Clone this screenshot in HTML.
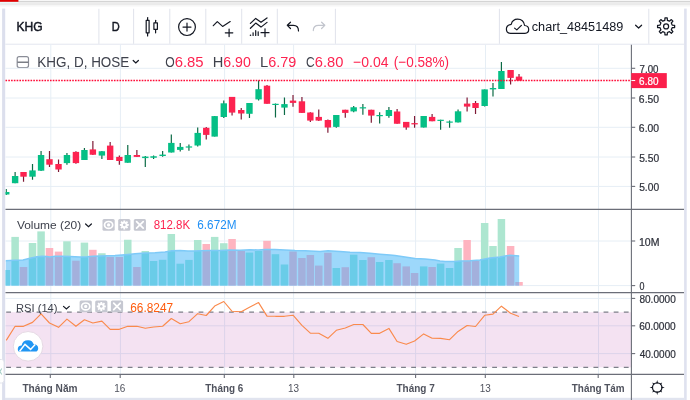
<!DOCTYPE html>
<html><head><meta charset="utf-8">
<style>
html,body{margin:0;padding:0;background:#fff;}
body{width:690px;height:400px;overflow:hidden;position:relative;font-family:"Liberation Sans",sans-serif;}
.a{position:absolute;white-space:nowrap;line-height:1;}
svg{position:absolute;left:0;top:0;will-change:transform;}
</style></head><body>
<svg width="690" height="400" viewBox="0 0 690 400" style="z-index:0">
<!-- top browser band -->
<rect x="0" y="0" width="690" height="1" fill="#f7f7f7"/>
<rect x="0" y="1" width="690" height="1.2" fill="#d4d4d4"/>
<rect x="0" y="2.2" width="690" height="3" fill="#ebebeb"/>
<rect x="0" y="5.2" width="690" height="1.3" fill="#f6f6f6"/>
<rect x="0" y="0" width="18.4" height="1.9" fill="#e00000"/>
<rect x="0" y="1.9" width="18.4" height="1.2" fill="#e9fbfb"/>
<!-- frame -->
<rect x="2.1" y="8.6" width="3.1" height="392" fill="#dcdfed"/>
<rect x="684.1" y="8.6" width="2.6" height="392" fill="#dfe2ef"/>
<rect x="5" y="397.8" width="679" height="2.2" fill="#e1e4ef"/>
<!-- toolbar bottom line -->
<rect x="5.3" y="43.7" width="678.7" height="1" fill="#e3e6ef"/>
<!-- toolbar separators -->
<g fill="#e0e3eb">
<rect x="98.4" y="8.8" width="1" height="35"/>
<rect x="133.1" y="8.8" width="1" height="35"/>
<rect x="169.3" y="8.8" width="1" height="35"/>
<rect x="205.3" y="8.8" width="1" height="35"/>
<rect x="241.2" y="8.8" width="1" height="35"/>
<rect x="276.8" y="8.8" width="1" height="35"/>
<rect x="334.9" y="8.8" width="1" height="35"/>
<rect x="498.9" y="8.8" width="1" height="35"/>
<rect x="648.3" y="8.8" width="1" height="35"/>
</g>
<!-- toolbar icons -->
<g fill="none" stroke="#131722" stroke-width="1.2" stroke-linecap="round" stroke-linejoin="round">
  <!-- candles icon -->
  <line x1="147.6" y1="17.5" x2="147.6" y2="36"/>
  <rect x="146.2" y="20.3" width="2.9" height="12.5" fill="#fff"/>
  <line x1="155.6" y1="20.3" x2="155.6" y2="32.8"/>
  <rect x="153.9" y="22.9" width="3.5" height="6.4" fill="#fff"/>
  <!-- plus circle -->
  <circle cx="187" cy="27.1" r="8.4"/>
  <line x1="183" y1="27.1" x2="191" y2="27.1"/>
  <line x1="187" y1="23.1" x2="187" y2="31.1"/>
  <!-- indicators -->
  <polyline points="213.3,25.7 217.3,21.6 222.6,26.4 230.2,21.6"/>
  <line x1="225.3" y1="32.8" x2="232.8" y2="32.8"/>
  <line x1="229.1" y1="29" x2="229.1" y2="36.6"/>
  <!-- templates -->
  <polyline points="250.4,23.4 255.7,18.4 261,22.3 267,17.9"/>
  <polyline points="250.4,28.3 255.7,23.1 261,27.1 267,22.4"/>
  <line x1="261" y1="32.7" x2="269" y2="32.7"/>
  <line x1="265" y1="28.8" x2="265" y2="36.6"/>
  <line x1="253.1" y1="32.8" x2="253.1" y2="35.5"/>
  <line x1="255.7" y1="30.7" x2="255.7" y2="35.5"/>
  <line x1="258.2" y1="31.8" x2="258.2" y2="35.5"/>
  <!-- undo -->
  <path d="M290.5,22.2 L287.3,25.3 L290.5,28.5 M287.3,25.3 L293.4,25.3 Q298.5,25.3 298.5,31"/>
  <!-- cloud -->
  <path d="M510.5,33.3 L525,33.3 Q528.7,33.3 528.7,29.6 Q528.7,25.8 524.6,25.5 Q523.6,19.2 517.6,19.2 Q512.6,19.2 511.2,24.3 Q506.4,25 506.4,29 Q506.4,33.3 510.5,33.3 Z"/>
  <polyline points="514.6,28.1 516.8,29.9 521.4,25.3"/>
  <!-- chevron -->
  <polyline points="635.6,25.2 638.6,28 641.6,25.2"/>
</g>
<g fill="none" stroke="#c2c5cd" stroke-width="1.2" stroke-linecap="round" stroke-linejoin="round">
  <path d="M321.6,22.2 L324.8,25.3 L321.6,28.5 M324.8,25.3 L318.5,25.3 Q313.3,25.3 313.3,30.6"/>
</g>
<!-- template dot -->
<circle cx="250.5" cy="35.3" r="0.8" fill="#131722"/>
<!-- gear top right -->
<path d="M664.81,20.34 L664.99,17.87 L667.21,17.87 L667.39,20.34 L669.47,21.20 L671.34,19.58 L672.92,21.16 L671.30,23.03 L672.16,25.11 L674.63,25.29 L674.63,27.51 L672.16,27.69 L671.30,29.77 L672.92,31.64 L671.34,33.22 L669.47,31.60 L667.39,32.46 L667.21,34.93 L664.99,34.93 L664.81,32.46 L662.73,31.60 L660.86,33.22 L659.28,31.64 L660.90,29.77 L660.04,27.69 L657.57,27.51 L657.57,25.29 L660.04,25.11 L660.90,23.03 L659.28,21.16 L660.86,19.58 L662.73,21.20 Z" fill="none" stroke="#131722" stroke-width="1.25" stroke-linejoin="round"/>
<circle cx="666.1" cy="26.4" r="2.5" fill="none" stroke="#131722" stroke-width="1.25"/>
<!-- legend collapse icon -->
<g fill="none" stroke="#8a8d97" stroke-width="1.2">
  <rect x="17.2" y="56.6" width="11.3" height="10.9" rx="2"/>
  <line x1="17.5" y1="62.2" x2="28.2" y2="62.2" stroke="#5a5d68"/>
</g>
<polyline points="133.2,60.5 135.8,63 138.4,60.5" fill="none" stroke="#131722" stroke-width="1.2" stroke-linecap="round"/>
<defs>
<clipPath id="cp"><rect x="5.5" y="44.5" width="626.0" height="164.5"/></clipPath>
<clipPath id="cv"><rect x="5.5" y="210" width="626.0" height="82.2"/></clipPath>
<clipPath id="cr"><rect x="5.5" y="293.2" width="626.0" height="80.8"/></clipPath>
</defs>
<g stroke="#e6eef5" stroke-width="1" fill="none">
<line x1="50.8" y1="44.5" x2="50.8" y2="374"/>
<line x1="120.4" y1="44.5" x2="120.4" y2="374"/>
<line x1="224.6" y1="44.5" x2="224.6" y2="374"/>
<line x1="293.6" y1="44.5" x2="293.6" y2="374"/>
<line x1="415.6" y1="44.5" x2="415.6" y2="374"/>
<line x1="485.5" y1="44.5" x2="485.5" y2="374"/>
<line x1="598.5" y1="44.5" x2="598.5" y2="374"/>
<line x1="5.5" y1="68.3" x2="631.5" y2="68.3"/>
<line x1="5.5" y1="98.0" x2="631.5" y2="98.0"/>
<line x1="5.5" y1="127.3" x2="631.5" y2="127.3"/>
<line x1="5.5" y1="157.0" x2="631.5" y2="157.0"/>
<line x1="5.5" y1="186.4" x2="631.5" y2="186.4"/>
<line x1="5.5" y1="241.0" x2="631.5" y2="241.0"/>
<line x1="5.5" y1="285.6" x2="631.5" y2="285.6"/>
<line x1="5.5" y1="298.4" x2="631.5" y2="298.4"/>
</g>
<rect x="5.5" y="312.2" width="626.0" height="55.2" fill="#f4e2f2"/>
<g stroke="#dcd3ea" stroke-width="1">
<line x1="5.5" y1="325.8" x2="631.5" y2="325.8"/>
<line x1="5.5" y1="353.6" x2="631.5" y2="353.6"/>
<line x1="50.8" y1="312.2" x2="50.8" y2="367.4"/>
<line x1="120.4" y1="312.2" x2="120.4" y2="367.4"/>
<line x1="224.6" y1="312.2" x2="224.6" y2="367.4"/>
<line x1="293.6" y1="312.2" x2="293.6" y2="367.4"/>
<line x1="415.6" y1="312.2" x2="415.6" y2="367.4"/>
<line x1="485.5" y1="312.2" x2="485.5" y2="367.4"/>
<line x1="598.5" y1="312.2" x2="598.5" y2="367.4"/>
</g>
<g stroke="#7d7f89" stroke-width="1.3" stroke-dasharray="4.8 5.325" fill="none">
<line x1="6.2" y1="312.2" x2="631.5" y2="312.2"/>
<line x1="6.2" y1="367.4" x2="631.5" y2="367.4"/>
</g>
<clipPath id="cvb"><polygon points="3.5,287.6 3.5,260.7 5.5,260.7 15,260.2 23,260 30,258.2 37,256.7 42,256.2 47,256.5 50,256.9 55,256.3 62,256.2 70,256.4 75,256.7 80,257.1 87,256.7 93,256.2 100,256 107,255.7 115,255.6 122,255 128,254.4 135,253.7 145,253 155,252.7 165,252.1 172,250.8 180,250.4 188,251 194,251 200,250.7 210,250.6 220,250.4 230,249.9 240,250.3 250,249.7 258,250 265,249.6 275,249.6 285,250.1 295,250.6 305,250.7 315,251.2 320,251.5 328,250.7 340,251.5 350,252.3 360,252.6 370,253.3 380,254.2 390,255 395,255.6 405,256.9 415,258.6 425,259 435,260 440,261 445,261.6 455,261.4 460,261 470,260.7 480,260 490,258.1 500,256.9 505,255.9 510,255.3 519.2,255.9 519.2,287.6"/></clipPath>
<clipPath id="cva"><polygon points="0,200 3.5,260.7 5.5,260.7 15,260.2 23,260 30,258.2 37,256.7 42,256.2 47,256.5 50,256.9 55,256.3 62,256.2 70,256.4 75,256.7 80,257.1 87,256.7 93,256.2 100,256 107,255.7 115,255.6 122,255 128,254.4 135,253.7 145,253 155,252.7 165,252.1 172,250.8 180,250.4 188,251 194,251 200,250.7 210,250.6 220,250.4 230,249.9 240,250.3 250,249.7 258,250 265,249.6 275,249.6 285,250.1 295,250.6 305,250.7 315,251.2 320,251.5 328,250.7 340,251.5 350,252.3 360,252.6 370,253.3 380,254.2 390,255 395,255.6 405,256.9 415,258.6 425,259 435,260 440,261 445,261.6 455,261.4 460,261 470,260.7 480,260 490,258.1 500,256.9 505,255.9 510,255.3 519.2,255.9 519.2,287.6 700,287.6 700,200"/></clipPath>
<g clip-path="url(#cv)">
<polygon points="5.5,285.6 5.5,260.7 15,260.2 23,260 30,258.2 37,256.7 42,256.2 47,256.5 50,256.9 55,256.3 62,256.2 70,256.4 75,256.7 80,257.1 87,256.7 93,256.2 100,256 107,255.7 115,255.6 122,255 128,254.4 135,253.7 145,253 155,252.7 165,252.1 172,250.8 180,250.4 188,251 194,251 200,250.7 210,250.6 220,250.4 230,249.9 240,250.3 250,249.7 258,250 265,249.6 275,249.6 285,250.1 295,250.6 305,250.7 315,251.2 320,251.5 328,250.7 340,251.5 350,252.3 360,252.6 370,253.3 380,254.2 390,255 395,255.6 405,256.9 415,258.6 425,259 435,260 440,261 445,261.6 455,261.4 460,261 470,260.7 480,260 490,258.1 500,256.9 505,255.9 510,255.3 519.2,255.9 519.2,285.6" fill="#9dd8fb"/>
<g clip-path="url(#cva)">
<rect x="2.48" y="270" width="7.5" height="15.6" fill="#ade6d0"/>
<rect x="11.37" y="236.9" width="7.5" height="48.7" fill="#ade6d0"/>
<rect x="19.78" y="267" width="7.5" height="18.6" fill="#feb4c0"/>
<rect x="28.76" y="243" width="7.5" height="42.6" fill="#ade6d0"/>
<rect x="37.32" y="231.4" width="7.5" height="54.2" fill="#ade6d0"/>
<rect x="45.74" y="248" width="7.5" height="37.6" fill="#feb4c0"/>
<rect x="54.78" y="251.6" width="7.5" height="34" fill="#feb4c0"/>
<rect x="63.2" y="241.3" width="7.5" height="44.3" fill="#ade6d0"/>
<rect x="72.18" y="260.7" width="7.5" height="24.9" fill="#feb4c0"/>
<rect x="80.67" y="242.6" width="7.5" height="43" fill="#ade6d0"/>
<rect x="89.12" y="249.8" width="7.5" height="35.8" fill="#feb4c0"/>
<rect x="98.13" y="253.25" width="7.5" height="32.35" fill="#ade6d0"/>
<rect x="106.41" y="257" width="7.5" height="28.6" fill="#feb4c0"/>
<rect x="115.6" y="257" width="7.5" height="28.6" fill="#feb4c0"/>
<rect x="124.02" y="239.75" width="7.5" height="45.85" fill="#ade6d0"/>
<rect x="133.13" y="267" width="7.5" height="18.6" fill="#feb4c0"/>
<rect x="141.55" y="251" width="7.5" height="34.6" fill="#ade6d0"/>
<rect x="149.83" y="261" width="7.5" height="24.6" fill="#ade6d0"/>
<rect x="158.88" y="259.8" width="7.5" height="25.8" fill="#ade6d0"/>
<rect x="167.57" y="234" width="7.5" height="51.6" fill="#ade6d0"/>
<rect x="176.48" y="263.7" width="7.5" height="21.9" fill="#ade6d0"/>
<rect x="185.18" y="259.9" width="7.5" height="25.7" fill="#ade6d0"/>
<rect x="193.95" y="240" width="7.5" height="45.6" fill="#ade6d0"/>
<rect x="202.5" y="244" width="7.5" height="41.6" fill="#feb4c0"/>
<rect x="210.92" y="236.9" width="7.5" height="48.7" fill="#ade6d0"/>
<rect x="220.04" y="243.2" width="7.5" height="42.4" fill="#ade6d0"/>
<rect x="228.32" y="239" width="7.5" height="46.6" fill="#feb4c0"/>
<rect x="237.5" y="251" width="7.5" height="34.6" fill="#feb4c0"/>
<rect x="245.71" y="252.6" width="7.5" height="33" fill="#ade6d0"/>
<rect x="254.83" y="251" width="7.5" height="34.6" fill="#ade6d0"/>
<rect x="263.25" y="240.8" width="7.5" height="44.8" fill="#feb4c0"/>
<rect x="271.73" y="254.2" width="7.5" height="31.4" fill="#ade6d0"/>
<rect x="280.71" y="264.5" width="7.5" height="21.1" fill="#ade6d0"/>
<rect x="289.27" y="251.5" width="7.5" height="34.1" fill="#feb4c0"/>
<rect x="298.18" y="258" width="7.5" height="27.6" fill="#feb4c0"/>
<rect x="306.6" y="255" width="7.5" height="30.6" fill="#feb4c0"/>
<rect x="315.01" y="265.6" width="7.5" height="20" fill="#feb4c0"/>
<rect x="324.13" y="252.8" width="7.5" height="32.8" fill="#feb4c0"/>
<rect x="332.55" y="268" width="7.5" height="17.6" fill="#ade6d0"/>
<rect x="341.53" y="267.2" width="7.5" height="18.4" fill="#feb4c0"/>
<rect x="349.94" y="254.7" width="7.5" height="30.9" fill="#ade6d0"/>
<rect x="359.13" y="260" width="7.5" height="25.6" fill="#ade6d0"/>
<rect x="367.55" y="257.2" width="7.5" height="28.4" fill="#feb4c0"/>
<rect x="375.9" y="262" width="7.5" height="23.6" fill="#ade6d0"/>
<rect x="385.15" y="260" width="7.5" height="25.6" fill="#ade6d0"/>
<rect x="393.36" y="263.2" width="7.5" height="22.4" fill="#feb4c0"/>
<rect x="402.48" y="266.4" width="7.5" height="19.2" fill="#feb4c0"/>
<rect x="410.83" y="273" width="7.5" height="12.6" fill="#feb4c0"/>
<rect x="419.94" y="266.4" width="7.5" height="19.2" fill="#ade6d0"/>
<rect x="428.36" y="267" width="7.5" height="18.6" fill="#feb4c0"/>
<rect x="436.85" y="263.6" width="7.5" height="22" fill="#ade6d0"/>
<rect x="445.83" y="268" width="7.5" height="17.6" fill="#ade6d0"/>
<rect x="454.31" y="248" width="7.5" height="37.6" fill="#ade6d0"/>
<rect x="463.36" y="240" width="7.5" height="45.6" fill="#feb4c0"/>
<rect x="471.78" y="261" width="7.5" height="24.6" fill="#feb4c0"/>
<rect x="480.9" y="223" width="7.5" height="62.6" fill="#ade6d0"/>
<rect x="489.24" y="246" width="7.5" height="39.6" fill="#ade6d0"/>
<rect x="497.66" y="219" width="7.5" height="66.6" fill="#ade6d0"/>
<rect x="506.85" y="246" width="7.5" height="39.6" fill="#feb4c0"/>
<rect x="515.27" y="282" width="7.5" height="3.6" fill="#feb4c0"/>
</g>
<g clip-path="url(#cvb)">
<rect x="2.48" y="270" width="7.5" height="15.6" fill="#6acce8"/>
<rect x="11.37" y="236.9" width="7.5" height="48.7" fill="#6acce8"/>
<rect x="19.78" y="267" width="7.5" height="18.6" fill="#a3b0dc"/>
<rect x="28.76" y="243" width="7.5" height="42.6" fill="#6acce8"/>
<rect x="37.32" y="231.4" width="7.5" height="54.2" fill="#6acce8"/>
<rect x="45.74" y="248" width="7.5" height="37.6" fill="#a3b0dc"/>
<rect x="54.78" y="251.6" width="7.5" height="34" fill="#a3b0dc"/>
<rect x="63.2" y="241.3" width="7.5" height="44.3" fill="#6acce8"/>
<rect x="72.18" y="260.7" width="7.5" height="24.9" fill="#a3b0dc"/>
<rect x="80.67" y="242.6" width="7.5" height="43" fill="#6acce8"/>
<rect x="89.12" y="249.8" width="7.5" height="35.8" fill="#a3b0dc"/>
<rect x="98.13" y="253.25" width="7.5" height="32.35" fill="#6acce8"/>
<rect x="106.41" y="257" width="7.5" height="28.6" fill="#a3b0dc"/>
<rect x="115.6" y="257" width="7.5" height="28.6" fill="#a3b0dc"/>
<rect x="124.02" y="239.75" width="7.5" height="45.85" fill="#6acce8"/>
<rect x="133.13" y="267" width="7.5" height="18.6" fill="#a3b0dc"/>
<rect x="141.55" y="251" width="7.5" height="34.6" fill="#6acce8"/>
<rect x="149.83" y="261" width="7.5" height="24.6" fill="#6acce8"/>
<rect x="158.88" y="259.8" width="7.5" height="25.8" fill="#6acce8"/>
<rect x="167.57" y="234" width="7.5" height="51.6" fill="#6acce8"/>
<rect x="176.48" y="263.7" width="7.5" height="21.9" fill="#6acce8"/>
<rect x="185.18" y="259.9" width="7.5" height="25.7" fill="#6acce8"/>
<rect x="193.95" y="240" width="7.5" height="45.6" fill="#6acce8"/>
<rect x="202.5" y="244" width="7.5" height="41.6" fill="#a3b0dc"/>
<rect x="210.92" y="236.9" width="7.5" height="48.7" fill="#6acce8"/>
<rect x="220.04" y="243.2" width="7.5" height="42.4" fill="#6acce8"/>
<rect x="228.32" y="239" width="7.5" height="46.6" fill="#a3b0dc"/>
<rect x="237.5" y="251" width="7.5" height="34.6" fill="#a3b0dc"/>
<rect x="245.71" y="252.6" width="7.5" height="33" fill="#6acce8"/>
<rect x="254.83" y="251" width="7.5" height="34.6" fill="#6acce8"/>
<rect x="263.25" y="240.8" width="7.5" height="44.8" fill="#a3b0dc"/>
<rect x="271.73" y="254.2" width="7.5" height="31.4" fill="#6acce8"/>
<rect x="280.71" y="264.5" width="7.5" height="21.1" fill="#6acce8"/>
<rect x="289.27" y="251.5" width="7.5" height="34.1" fill="#a3b0dc"/>
<rect x="298.18" y="258" width="7.5" height="27.6" fill="#a3b0dc"/>
<rect x="306.6" y="255" width="7.5" height="30.6" fill="#a3b0dc"/>
<rect x="315.01" y="265.6" width="7.5" height="20" fill="#a3b0dc"/>
<rect x="324.13" y="252.8" width="7.5" height="32.8" fill="#a3b0dc"/>
<rect x="332.55" y="268" width="7.5" height="17.6" fill="#6acce8"/>
<rect x="341.53" y="267.2" width="7.5" height="18.4" fill="#a3b0dc"/>
<rect x="349.94" y="254.7" width="7.5" height="30.9" fill="#6acce8"/>
<rect x="359.13" y="260" width="7.5" height="25.6" fill="#6acce8"/>
<rect x="367.55" y="257.2" width="7.5" height="28.4" fill="#a3b0dc"/>
<rect x="375.9" y="262" width="7.5" height="23.6" fill="#6acce8"/>
<rect x="385.15" y="260" width="7.5" height="25.6" fill="#6acce8"/>
<rect x="393.36" y="263.2" width="7.5" height="22.4" fill="#a3b0dc"/>
<rect x="402.48" y="266.4" width="7.5" height="19.2" fill="#a3b0dc"/>
<rect x="410.83" y="273" width="7.5" height="12.6" fill="#a3b0dc"/>
<rect x="419.94" y="266.4" width="7.5" height="19.2" fill="#6acce8"/>
<rect x="428.36" y="267" width="7.5" height="18.6" fill="#a3b0dc"/>
<rect x="436.85" y="263.6" width="7.5" height="22" fill="#6acce8"/>
<rect x="445.83" y="268" width="7.5" height="17.6" fill="#6acce8"/>
<rect x="454.31" y="248" width="7.5" height="37.6" fill="#6acce8"/>
<rect x="463.36" y="240" width="7.5" height="45.6" fill="#a3b0dc"/>
<rect x="471.78" y="261" width="7.5" height="24.6" fill="#a3b0dc"/>
<rect x="480.9" y="223" width="7.5" height="62.6" fill="#6acce8"/>
<rect x="489.24" y="246" width="7.5" height="39.6" fill="#6acce8"/>
<rect x="497.66" y="219" width="7.5" height="66.6" fill="#6acce8"/>
<rect x="506.85" y="246" width="7.5" height="39.6" fill="#a3b0dc"/>
<rect x="515.27" y="282" width="7.5" height="3.6" fill="#a3b0dc"/>
</g>
<polyline points="5.5,260.7 15,260.2 23,260 30,258.2 37,256.7 42,256.2 47,256.5 50,256.9 55,256.3 62,256.2 70,256.4 75,256.7 80,257.1 87,256.7 93,256.2 100,256 107,255.7 115,255.6 122,255 128,254.4 135,253.7 145,253 155,252.7 165,252.1 172,250.8 180,250.4 188,251 194,251 200,250.7 210,250.6 220,250.4 230,249.9 240,250.3 250,249.7 258,250 265,249.6 275,249.6 285,250.1 295,250.6 305,250.7 315,251.2 320,251.5 328,250.7 340,251.5 350,252.3 360,252.6 370,253.3 380,254.2 390,255 395,255.6 405,256.9 415,258.6 425,259 435,260 440,261 445,261.6 455,261.4 460,261 470,260.7 480,260 490,258.1 500,256.9 505,255.9 510,255.3 519.2,255.9" fill="none" stroke="#7ecaf8" stroke-width="1.5"/>
</g>
<g clip-path="url(#cp)">
<line x1="6.23" y1="189" x2="6.23" y2="195" stroke="#0c6b46" stroke-width="1.2"/>
<rect x="3.03" y="192" width="6.4" height="2.5" fill="#05bf85"/>
<line x1="15.12" y1="172" x2="15.12" y2="183.2" stroke="#0c6b46" stroke-width="1.2"/>
<rect x="11.92" y="176" width="6.4" height="7.2" fill="#05bf85"/>
<line x1="23.53" y1="172" x2="23.53" y2="181.7" stroke="#7f1a36" stroke-width="1.2"/>
<rect x="20.33" y="172" width="6.4" height="4.7" fill="#fd2350"/>
<line x1="32.51" y1="164" x2="32.51" y2="179.7" stroke="#0c6b46" stroke-width="1.2"/>
<rect x="29.31" y="170.4" width="6.4" height="6.3" fill="#05bf85"/>
<line x1="41.07" y1="151" x2="41.07" y2="171" stroke="#0c6b46" stroke-width="1.2"/>
<rect x="37.87" y="155" width="6.4" height="15.7" fill="#05bf85"/>
<line x1="49.49" y1="151" x2="49.49" y2="167" stroke="#7f1a36" stroke-width="1.2"/>
<rect x="46.29" y="159.2" width="6.4" height="5.5" fill="#fd2350"/>
<line x1="58.53" y1="159.4" x2="58.53" y2="171.9" stroke="#7f1a36" stroke-width="1.2"/>
<rect x="55.33" y="164" width="6.4" height="5.5" fill="#fd2350"/>
<line x1="66.95" y1="153.1" x2="66.95" y2="164.75" stroke="#0c6b46" stroke-width="1.2"/>
<rect x="63.75" y="155" width="6.4" height="8.1" fill="#05bf85"/>
<line x1="75.93" y1="151.25" x2="75.93" y2="163.75" stroke="#7f1a36" stroke-width="1.2"/>
<rect x="72.73" y="151.9" width="6.4" height="11.2" fill="#fd2350"/>
<line x1="84.42" y1="148.1" x2="84.42" y2="160" stroke="#0c6b46" stroke-width="1.2"/>
<rect x="81.22" y="150" width="6.4" height="10" fill="#05bf85"/>
<line x1="92.87" y1="141" x2="92.87" y2="155" stroke="#7f1a36" stroke-width="1.2"/>
<rect x="89.67" y="149.4" width="6.4" height="5.35" fill="#fd2350"/>
<line x1="101.88" y1="151" x2="101.88" y2="159" stroke="#0c6b46" stroke-width="1.2"/>
<rect x="98.68" y="151.25" width="6.4" height="4.35" fill="#05bf85"/>
<line x1="110.16" y1="141.9" x2="110.16" y2="160" stroke="#7f1a36" stroke-width="1.2"/>
<rect x="106.96" y="145.6" width="6.4" height="14.4" fill="#fd2350"/>
<line x1="119.35" y1="155.6" x2="119.35" y2="164.75" stroke="#7f1a36" stroke-width="1.2"/>
<rect x="116.15" y="156.9" width="6.4" height="4.1" fill="#fd2350"/>
<line x1="127.77" y1="145" x2="127.77" y2="162.75" stroke="#0c6b46" stroke-width="1.2"/>
<rect x="124.57" y="155" width="6.4" height="7.75" fill="#05bf85"/>
<line x1="136.88" y1="150" x2="136.88" y2="157" stroke="#7f1a36" stroke-width="1.2"/>
<rect x="133.68" y="155" width="6.4" height="1.9" fill="#fd2350"/>
<line x1="145.3" y1="156" x2="145.3" y2="166.9" stroke="#0c6b46" stroke-width="1.2"/>
<rect x="142.1" y="156.6" width="6.4" height="1.5" fill="#05bf85"/>
<line x1="153.58" y1="155.6" x2="153.58" y2="159" stroke="#0c6b46" stroke-width="1.2"/>
<rect x="150.38" y="156.25" width="6.4" height="1.5" fill="#05bf85"/>
<line x1="162.63" y1="151" x2="162.63" y2="156.8" stroke="#0c6b46" stroke-width="1.2"/>
<rect x="159.43" y="154.6" width="6.4" height="1.4" fill="#05bf85"/>
<line x1="171.32" y1="134.6" x2="171.32" y2="152.5" stroke="#0c6b46" stroke-width="1.2"/>
<rect x="168.12" y="142.9" width="6.4" height="9.6" fill="#05bf85"/>
<line x1="180.23" y1="142.9" x2="180.23" y2="151.6" stroke="#0c6b46" stroke-width="1.2"/>
<rect x="177.03" y="146.9" width="6.4" height="3" fill="#05bf85"/>
<line x1="188.93" y1="144.6" x2="188.93" y2="150.7" stroke="#0c6b46" stroke-width="1.2"/>
<rect x="185.73" y="146.4" width="6.4" height="1.2" fill="#05bf85"/>
<line x1="197.7" y1="127.6" x2="197.7" y2="146.4" stroke="#0c6b46" stroke-width="1.2"/>
<rect x="194.5" y="132.9" width="6.4" height="12.6" fill="#05bf85"/>
<line x1="206.25" y1="127.1" x2="206.25" y2="139.6" stroke="#7f1a36" stroke-width="1.2"/>
<rect x="203.05" y="127.8" width="6.4" height="7.1" fill="#fd2350"/>
<line x1="214.67" y1="116.1" x2="214.67" y2="136.6" stroke="#0c6b46" stroke-width="1.2"/>
<rect x="211.47" y="116.1" width="6.4" height="20.5" fill="#05bf85"/>
<line x1="223.79" y1="100.4" x2="223.79" y2="117.9" stroke="#0c6b46" stroke-width="1.2"/>
<rect x="220.59" y="103.3" width="6.4" height="13.7" fill="#05bf85"/>
<line x1="232.07" y1="96.9" x2="232.07" y2="115.6" stroke="#7f1a36" stroke-width="1.2"/>
<rect x="228.87" y="96.9" width="6.4" height="15.7" fill="#fd2350"/>
<line x1="241.25" y1="107.9" x2="241.25" y2="119.6" stroke="#7f1a36" stroke-width="1.2"/>
<rect x="238.05" y="110" width="6.4" height="3.5" fill="#fd2350"/>
<line x1="249.46" y1="103" x2="249.46" y2="117.9" stroke="#0c6b46" stroke-width="1.2"/>
<rect x="246.26" y="103" width="6.4" height="10.8" fill="#05bf85"/>
<line x1="258.58" y1="80.5" x2="258.58" y2="100.6" stroke="#0c6b46" stroke-width="1.2"/>
<rect x="255.38" y="89.2" width="6.4" height="10.2" fill="#05bf85"/>
<line x1="267" y1="84.9" x2="267" y2="103.8" stroke="#7f1a36" stroke-width="1.2"/>
<rect x="263.8" y="85.7" width="6.4" height="18.1" fill="#fd2350"/>
<line x1="275.48" y1="103.5" x2="275.48" y2="117.6" stroke="#0c6b46" stroke-width="1.2"/>
<rect x="272.28" y="103.8" width="6.4" height="1.2" fill="#05bf85"/>
<line x1="284.46" y1="97.6" x2="284.46" y2="115.1" stroke="#0c6b46" stroke-width="1.2"/>
<rect x="281.26" y="104.1" width="6.4" height="3.5" fill="#05bf85"/>
<line x1="293.02" y1="95" x2="293.02" y2="106.7" stroke="#7f1a36" stroke-width="1.2"/>
<rect x="289.82" y="100.6" width="6.4" height="2.3" fill="#fd2350"/>
<line x1="301.93" y1="97" x2="301.93" y2="112.9" stroke="#7f1a36" stroke-width="1.2"/>
<rect x="298.73" y="101.3" width="6.4" height="11.6" fill="#fd2350"/>
<line x1="310.35" y1="112.3" x2="310.35" y2="121.9" stroke="#7f1a36" stroke-width="1.2"/>
<rect x="307.15" y="112.5" width="6.4" height="8.1" fill="#fd2350"/>
<line x1="318.76" y1="109.4" x2="318.76" y2="121" stroke="#7f1a36" stroke-width="1.2"/>
<rect x="315.56" y="116.9" width="6.4" height="3.7" fill="#fd2350"/>
<line x1="327.88" y1="119.4" x2="327.88" y2="132.75" stroke="#7f1a36" stroke-width="1.2"/>
<rect x="324.68" y="120" width="6.4" height="7.5" fill="#fd2350"/>
<line x1="336.3" y1="115" x2="336.3" y2="127.75" stroke="#0c6b46" stroke-width="1.2"/>
<rect x="333.1" y="115" width="6.4" height="11.9" fill="#05bf85"/>
<line x1="345.28" y1="109.75" x2="345.28" y2="117.75" stroke="#7f1a36" stroke-width="1.2"/>
<rect x="342.08" y="109.75" width="6.4" height="3.15" fill="#fd2350"/>
<line x1="353.69" y1="106" x2="353.69" y2="112.25" stroke="#0c6b46" stroke-width="1.2"/>
<rect x="350.49" y="107.25" width="6.4" height="4.15" fill="#05bf85"/>
<line x1="362.88" y1="104" x2="362.88" y2="114.75" stroke="#0c6b46" stroke-width="1.2"/>
<rect x="359.68" y="107.25" width="6.4" height="1.2" fill="#05bf85"/>
<line x1="371.3" y1="109.75" x2="371.3" y2="122.75" stroke="#7f1a36" stroke-width="1.2"/>
<rect x="368.1" y="109.75" width="6.4" height="5.85" fill="#fd2350"/>
<line x1="379.65" y1="112.25" x2="379.65" y2="123.5" stroke="#0c6b46" stroke-width="1.2"/>
<rect x="376.45" y="115" width="6.4" height="1.2" fill="#05bf85"/>
<line x1="388.9" y1="106.9" x2="388.9" y2="117.75" stroke="#0c6b46" stroke-width="1.2"/>
<rect x="385.7" y="110" width="6.4" height="6" fill="#05bf85"/>
<line x1="397.11" y1="109" x2="397.11" y2="123.75" stroke="#7f1a36" stroke-width="1.2"/>
<rect x="393.91" y="111.5" width="6.4" height="12.25" fill="#fd2350"/>
<line x1="406.23" y1="121.9" x2="406.23" y2="129.75" stroke="#7f1a36" stroke-width="1.2"/>
<rect x="403.03" y="121.9" width="6.4" height="5.6" fill="#fd2350"/>
<line x1="414.58" y1="116" x2="414.58" y2="127.75" stroke="#7f1a36" stroke-width="1.2"/>
<rect x="411.38" y="123.1" width="6.4" height="1.3" fill="#fd2350"/>
<line x1="423.69" y1="116" x2="423.69" y2="127.5" stroke="#0c6b46" stroke-width="1.2"/>
<rect x="420.49" y="116" width="6.4" height="11.5" fill="#05bf85"/>
<line x1="432.11" y1="114" x2="432.11" y2="121.25" stroke="#7f1a36" stroke-width="1.2"/>
<rect x="428.91" y="116.9" width="6.4" height="4.35" fill="#fd2350"/>
<line x1="440.6" y1="119.75" x2="440.6" y2="129.75" stroke="#0c6b46" stroke-width="1.2"/>
<rect x="437.4" y="119.75" width="6.4" height="1.2" fill="#05bf85"/>
<line x1="449.58" y1="120.4" x2="449.58" y2="127.75" stroke="#0c6b46" stroke-width="1.2"/>
<rect x="446.38" y="121.5" width="6.4" height="1.2" fill="#05bf85"/>
<line x1="458.06" y1="109.6" x2="458.06" y2="122.4" stroke="#0c6b46" stroke-width="1.2"/>
<rect x="454.86" y="111.3" width="6.4" height="11.1" fill="#05bf85"/>
<line x1="467.11" y1="97.6" x2="467.11" y2="111.4" stroke="#7f1a36" stroke-width="1.2"/>
<rect x="463.91" y="103.6" width="6.4" height="3" fill="#fd2350"/>
<line x1="475.53" y1="101" x2="475.53" y2="114" stroke="#7f1a36" stroke-width="1.2"/>
<rect x="472.33" y="103" width="6.4" height="5" fill="#fd2350"/>
<line x1="484.65" y1="89.4" x2="484.65" y2="106.6" stroke="#0c6b46" stroke-width="1.2"/>
<rect x="481.45" y="89.4" width="6.4" height="16.6" fill="#05bf85"/>
<line x1="492.99" y1="83" x2="492.99" y2="96.6" stroke="#0c6b46" stroke-width="1.2"/>
<rect x="489.79" y="88" width="6.4" height="1.4" fill="#05bf85"/>
<line x1="501.41" y1="62" x2="501.41" y2="89" stroke="#0c6b46" stroke-width="1.2"/>
<rect x="498.21" y="71" width="6.4" height="18" fill="#05bf85"/>
<line x1="510.6" y1="70" x2="510.6" y2="84.6" stroke="#7f1a36" stroke-width="1.2"/>
<rect x="507.4" y="70" width="6.4" height="7.9" fill="#fd2350"/>
<line x1="519.02" y1="74" x2="519.02" y2="80.6" stroke="#7f1a36" stroke-width="1.2"/>
<rect x="515.82" y="76.6" width="6.4" height="4" fill="#fd2350"/>
</g>
<line x1="5.5" y1="80.5" x2="631.5" y2="80.5" stroke="#ff0a36" stroke-width="1.35" stroke-dasharray="1.6 1.18"/>
<g clip-path="url(#cr)">
<polyline points="6.23,340.4 15.12,326.3 23.53,326.3 32.51,322.4 41.07,313.9 49.49,323 58.53,327.3 66.95,319.1 75.93,326.3 84.42,319.8 92.87,323 101.88,321.1 110.16,329.3 119.35,329.3 127.77,326.3 136.88,326.3 145.3,328.3 153.58,327 162.63,326.3 171.32,318.5 180.23,323.7 188.93,321.7 197.7,313.7 206.25,315.5 214.67,306.1 223.79,301.5 232.07,311.3 241.25,311.7 249.46,307.2 258.58,302.6 267,316.1 275.48,316.3 284.46,316.3 293.02,315.2 301.93,325.3 310.35,333.1 318.76,333.3 327.88,338.3 336.3,330.3 345.28,328 353.69,324.5 362.88,324.5 371.3,333.3 379.65,333.3 388.9,328.4 397.11,341.5 406.23,344.3 414.58,341 423.69,333.9 432.11,338.3 440.6,338.4 449.58,339.7 458.06,331.4 467.11,325.5 475.53,326.5 484.65,315.3 492.99,314.1 501.41,306.2 510.6,313.3 519.02,316.5" fill="none" stroke="#fa8a4c" stroke-width="1.15" stroke-linejoin="round"/>
</g>
<g stroke="#6b6e78" stroke-width="1.1">
<line x1="5.5" y1="209.4" x2="684" y2="209.4"/>
<line x1="5.5" y1="292.6" x2="684" y2="292.6"/>
<line x1="5.5" y1="374.4" x2="684" y2="374.4"/>
<line x1="631.4" y1="44.8" x2="631.4" y2="400"/>
<line x1="631.4" y1="68.3" x2="635.2" y2="68.3"/>
<line x1="631.4" y1="98.0" x2="635.2" y2="98.0"/>
<line x1="631.4" y1="127.3" x2="635.2" y2="127.3"/>
<line x1="631.4" y1="157.0" x2="635.2" y2="157.0"/>
<line x1="631.4" y1="186.4" x2="635.2" y2="186.4"/>
<line x1="631.4" y1="241.0" x2="635.2" y2="241.0"/>
<line x1="631.4" y1="285.6" x2="635.2" y2="285.6"/>
<line x1="631.4" y1="298.4" x2="635.2" y2="298.4"/>
<line x1="631.4" y1="325.8" x2="635.2" y2="325.8"/>
<line x1="631.4" y1="353.6" x2="635.2" y2="353.6"/>
<line x1="50.3" y1="374.4" x2="50.3" y2="378"/>
<line x1="120.2" y1="374.4" x2="120.2" y2="378"/>
<line x1="224.3" y1="374.4" x2="224.3" y2="378"/>
<line x1="293.8" y1="374.4" x2="293.8" y2="378"/>
<line x1="415.6" y1="374.4" x2="415.6" y2="378"/>
<line x1="485.3" y1="374.4" x2="485.3" y2="378"/>
<line x1="598.2" y1="374.4" x2="598.2" y2="378"/>
</g>
<rect x="631.3" y="73.1" width="35.5" height="15" fill="#fb1f4b"/>
<line x1="631.4" y1="80.5" x2="635.2" y2="80.5" stroke="#fff" stroke-width="1.1"/>
<!-- volume legend chevron & boxes -->
<polyline points="85.6,224 88.5,226.6 91.4,224" fill="none" stroke="#131722" stroke-width="1.2" stroke-linecap="round"/>
<polyline points="63.5,306.4 66.4,309 69.3,306.4" fill="none" stroke="#131722" stroke-width="1.2" stroke-linecap="round"/>
<g fill="#c6c8d1">
  <rect x="102.5" y="219" width="12.2" height="11.8" rx="1.5"/>
  <rect x="118.2" y="219" width="12.2" height="11.8" rx="1.5"/>
  <rect x="133.8" y="219" width="12.2" height="11.8" rx="1.5"/>
  <rect x="79.6" y="300.5" width="12.2" height="11.8" rx="1.5"/>
  <rect x="95.2" y="300.5" width="12.2" height="11.8" rx="1.5"/>
  <rect x="110.9" y="300.5" width="12.2" height="11.8" rx="1.5"/>
</g>
<g fill="none" stroke="#fff" stroke-width="1.7" stroke-linecap="round">
  <ellipse cx="108.6" cy="224.9" rx="4.1" ry="3.4"/>
  <circle cx="108.6" cy="224.9" r="0.8" fill="#fff"/>

  <line x1="136.6" y1="221.7" x2="143.2" y2="228.2"/>
  <line x1="143.2" y1="221.7" x2="136.6" y2="228.2"/>
  <ellipse cx="85.7" cy="306.4" rx="4.1" ry="3.4"/>
  <circle cx="85.7" cy="306.4" r="0.8" fill="#fff"/>

  <line x1="113.7" y1="303.2" x2="120.3" y2="309.7"/>
  <line x1="120.3" y1="303.2" x2="113.7" y2="309.7"/>
</g>
<path d="M123.32,221.75 L123.39,220.39 L125.21,220.39 L125.28,221.75 L125.84,221.98 L126.84,221.07 L128.13,222.36 L127.22,223.36 L127.45,223.92 L128.81,223.99 L128.81,225.81 L127.45,225.88 L127.22,226.44 L128.13,227.44 L126.84,228.73 L125.84,227.82 L125.28,228.05 L125.21,229.41 L123.39,229.41 L123.32,228.05 L122.76,227.82 L121.76,228.73 L120.47,227.44 L121.38,226.44 L121.15,225.88 L119.79,225.81 L119.79,223.99 L121.15,223.92 L121.38,223.36 L120.47,222.36 L121.76,221.07 L122.76,221.98 Z M124.3,223.5 a1.4,1.4 0 1,0 0.01,0 Z" fill="#fff" fill-rule="evenodd"/>
<path d="M100.32,303.25 L100.39,301.89 L102.21,301.89 L102.28,303.25 L102.84,303.48 L103.84,302.57 L105.13,303.86 L104.22,304.86 L104.45,305.42 L105.81,305.49 L105.81,307.31 L104.45,307.38 L104.22,307.94 L105.13,308.94 L103.84,310.23 L102.84,309.32 L102.28,309.55 L102.21,310.91 L100.39,310.91 L100.32,309.55 L99.76,309.32 L98.76,310.23 L97.47,308.94 L98.38,307.94 L98.15,307.38 L96.79,307.31 L96.79,305.49 L98.15,305.42 L98.38,304.86 L97.47,303.86 L98.76,302.57 L99.76,303.48 Z M101.3,305 a1.4,1.4 0 1,0 0.01,0 Z" fill="#fff" fill-rule="evenodd"/>
<!-- logo circle -->
<circle cx="28.1" cy="346.3" r="14.8" fill="#fff" stroke="#e6d9e4" stroke-width="1"/>
<path d="M19.5,351.5 Q17.6,351.5 17.8,348.7 Q18.2,345.6 21.6,345.6 Q22.6,340 28.3,340.2 Q32.5,340.4 33.7,344.3 Q38.3,344.6 38.2,348.4 Q38,351.5 35.3,351.5 Z" fill="#2196f3"/>
<polyline points="19.6,351.2 25,344.4 30.6,349.4 35.2,344.6" fill="none" stroke="#fff" stroke-width="1.5"/>
<!-- bottom settings icon -->
<circle cx="657.2" cy="387.5" r="4.7" fill="none" stroke="#131722" stroke-width="1.2"/>
<path d="M658.15,383.20 L657.20,379.90 L656.25,383.20 Z M660.91,385.13 L662.15,382.55 L659.57,383.79 Z M661.50,388.45 L664.80,387.50 L661.50,386.55 Z M659.57,391.21 L662.15,392.45 L660.91,389.87 Z M656.25,391.80 L657.20,395.10 L658.15,391.80 Z M653.49,389.87 L652.25,392.45 L654.83,391.21 Z M652.90,386.55 L649.60,387.50 L652.90,388.45 Z M654.83,383.79 L652.25,382.55 L653.49,385.13 Z" fill="#131722"/>
<!-- left small tab -->
<rect x="-3" y="359.5" width="7" height="23.5" rx="2.5" fill="#fff" stroke="#e2e4ec" stroke-width="1"/>
<polyline points="1.6,368.5 0.2,371.5 1.6,374.5" fill="none" stroke="#8cc2b8" stroke-width="0.9"/>

<g font-family="Liberation Sans, sans-serif">
<text id="t_khg" x="16.52" y="30.8" font-size="12.4" stroke="#131722" stroke-width="0.45" fill="#131722" textLength="26.13" lengthAdjust="spacingAndGlyphs">KHG</text>
<text id="t_d" x="111.83" y="30.9" font-size="12.4" stroke="#131722" stroke-width="0.45" fill="#131722" textLength="7.97" lengthAdjust="spacingAndGlyphs">D</text>
<text id="t_chart" x="531.79" y="30.7" font-size="12.5" fill="#131722" textLength="91.57" lengthAdjust="spacingAndGlyphs">chart_48451489</text>
<text id="t_leg" x="37.31" y="66.6" font-size="15.4" fill="#3e414c" textLength="91.99" lengthAdjust="spacingAndGlyphs">KHG, D, HOSE</text>
<text id="t_o" x="165.19" y="66.8" font-size="15.0" fill="#3e414c" textLength="9.45" lengthAdjust="spacingAndGlyphs">O</text>
<text id="t_o2" x="174.64" y="66.8" font-size="15.0" fill="#fd2350" textLength="28.95" lengthAdjust="spacingAndGlyphs">6.85</text>
<text id="t_h" x="212.68" y="66.8" font-size="15.0" fill="#3e414c" textLength="10.59" lengthAdjust="spacingAndGlyphs">H</text>
<text id="t_h2" x="223.27" y="66.8" font-size="15.0" fill="#fd2350" textLength="27.56" lengthAdjust="spacingAndGlyphs">6.90</text>
<text id="t_l" x="260.07" y="66.8" font-size="15.0" fill="#3e414c" textLength="8.22" lengthAdjust="spacingAndGlyphs">L</text>
<text id="t_l2" x="268.28" y="66.8" font-size="15.0" fill="#fd2350" textLength="28.09" lengthAdjust="spacingAndGlyphs">6.79</text>
<text id="t_c" x="306.10" y="66.8" font-size="15.0" fill="#3e414c" textLength="8.68" lengthAdjust="spacingAndGlyphs">C</text>
<text id="t_c2" x="314.77" y="66.8" font-size="15.0" fill="#fd2350" textLength="28.57" lengthAdjust="spacingAndGlyphs">6.80</text>
<text id="t_chg" x="353.10" y="66.8" font-size="15.0" fill="#fd2350" textLength="35.44" lengthAdjust="spacingAndGlyphs">−0.04</text>
<text id="t_pct" x="393.80" y="66.8" font-size="15.0" fill="#fd2350" textLength="55.32" lengthAdjust="spacingAndGlyphs">(−0.58%)</text>
<text id="t_vol" x="16.90" y="229.0" font-size="11.7" fill="#3e414c" textLength="64.28" lengthAdjust="spacingAndGlyphs">Volume (20)</text>
<text id="t_v1" x="153.63" y="229.2" font-size="12.3" fill="#fd2350" textLength="36.49" lengthAdjust="spacingAndGlyphs">812.8K</text>
<text id="t_v2" x="197.32" y="229.2" font-size="12.3" fill="#1f8ff5" textLength="39.16" lengthAdjust="spacingAndGlyphs">6.672M</text>
<text id="t_rsi" x="15.94" y="312.2" font-size="11.7" fill="#3e414c" textLength="41.59" lengthAdjust="spacingAndGlyphs">RSI (14)</text>
<text id="t_rsiv" x="130.22" y="312.3" font-size="12.4" fill="#ff5c0e" textLength="42.90" lengthAdjust="spacingAndGlyphs">66.8247</text>
<text id="p700" x="639.52" y="72.9" font-size="10.2" stroke="#2e313b" stroke-width="0.22" fill="#2e313b" textLength="18.95" lengthAdjust="spacingAndGlyphs">7.00</text>
<text id="p650" x="638.89" y="102.7" font-size="10.2" stroke="#2e313b" stroke-width="0.22" fill="#2e313b" textLength="20.19" lengthAdjust="spacingAndGlyphs">6.50</text>
<text id="p600" x="638.89" y="131.9" font-size="10.2" stroke="#2e313b" stroke-width="0.22" fill="#2e313b" textLength="20.19" lengthAdjust="spacingAndGlyphs">6.00</text>
<text id="p550" x="639.15" y="161.8" font-size="10.2" stroke="#2e313b" stroke-width="0.22" fill="#2e313b" textLength="19.93" lengthAdjust="spacingAndGlyphs">5.50</text>
<text id="p500" x="639.15" y="191.1" font-size="10.2" stroke="#2e313b" stroke-width="0.22" fill="#2e313b" textLength="19.93" lengthAdjust="spacingAndGlyphs">5.00</text>
<text id="p10m" x="639.03" y="245.8" font-size="10.2" stroke="#2e313b" stroke-width="0.22" fill="#2e313b" textLength="20.47" lengthAdjust="spacingAndGlyphs">10M</text>
<text id="p0" x="639.58" y="289.9" font-size="10.2" stroke="#2e313b" stroke-width="0.22" fill="#2e313b" textLength="4.97" lengthAdjust="spacingAndGlyphs">0</text>
<text id="p80" x="639.40" y="302.8" font-size="10.2" stroke="#2e313b" stroke-width="0.22" fill="#2e313b" textLength="36.37" lengthAdjust="spacingAndGlyphs">80.0000</text>
<text id="p60" x="639.15" y="330.4" font-size="10.2" stroke="#2e313b" stroke-width="0.22" fill="#2e313b" textLength="36.62" lengthAdjust="spacingAndGlyphs">60.0000</text>
<text id="p40" x="639.65" y="358.2" font-size="10.2" stroke="#2e313b" stroke-width="0.22" fill="#2e313b" textLength="36.13" lengthAdjust="spacingAndGlyphs">40.0000</text>
<text id="p680" x="639.11" y="84.9" font-size="10.2" stroke="#ffffff" stroke-width="0.22" fill="#ffffff" textLength="19.36" lengthAdjust="spacingAndGlyphs">6.80</text>
<text id="x1" x="22.40" y="391.8" font-size="10.3" font-weight="bold" fill="#50535e" textLength="55.17" lengthAdjust="spacingAndGlyphs">Tháng Năm</text>
<text id="x2" x="114.28" y="391.8" font-size="10.3" fill="#50535e" textLength="11.08" lengthAdjust="spacingAndGlyphs">16</text>
<text id="x3" x="205.30" y="391.8" font-size="10.3" font-weight="bold" fill="#50535e" textLength="37.93" lengthAdjust="spacingAndGlyphs">Tháng 6</text>
<text id="x4" x="288.08" y="391.8" font-size="10.3" fill="#50535e" textLength="11.08" lengthAdjust="spacingAndGlyphs">13</text>
<text id="x5" x="396.50" y="391.8" font-size="10.3" font-weight="bold" fill="#50535e" textLength="38.27" lengthAdjust="spacingAndGlyphs">Tháng 7</text>
<text id="x6" x="479.78" y="391.8" font-size="10.3" fill="#50535e" textLength="11.08" lengthAdjust="spacingAndGlyphs">13</text>
<text id="x7" x="571.80" y="391.8" font-size="10.3" font-weight="bold" fill="#50535e" textLength="52.85" lengthAdjust="spacingAndGlyphs">Tháng Tám</text>
</g>
</svg>
</body></html>
